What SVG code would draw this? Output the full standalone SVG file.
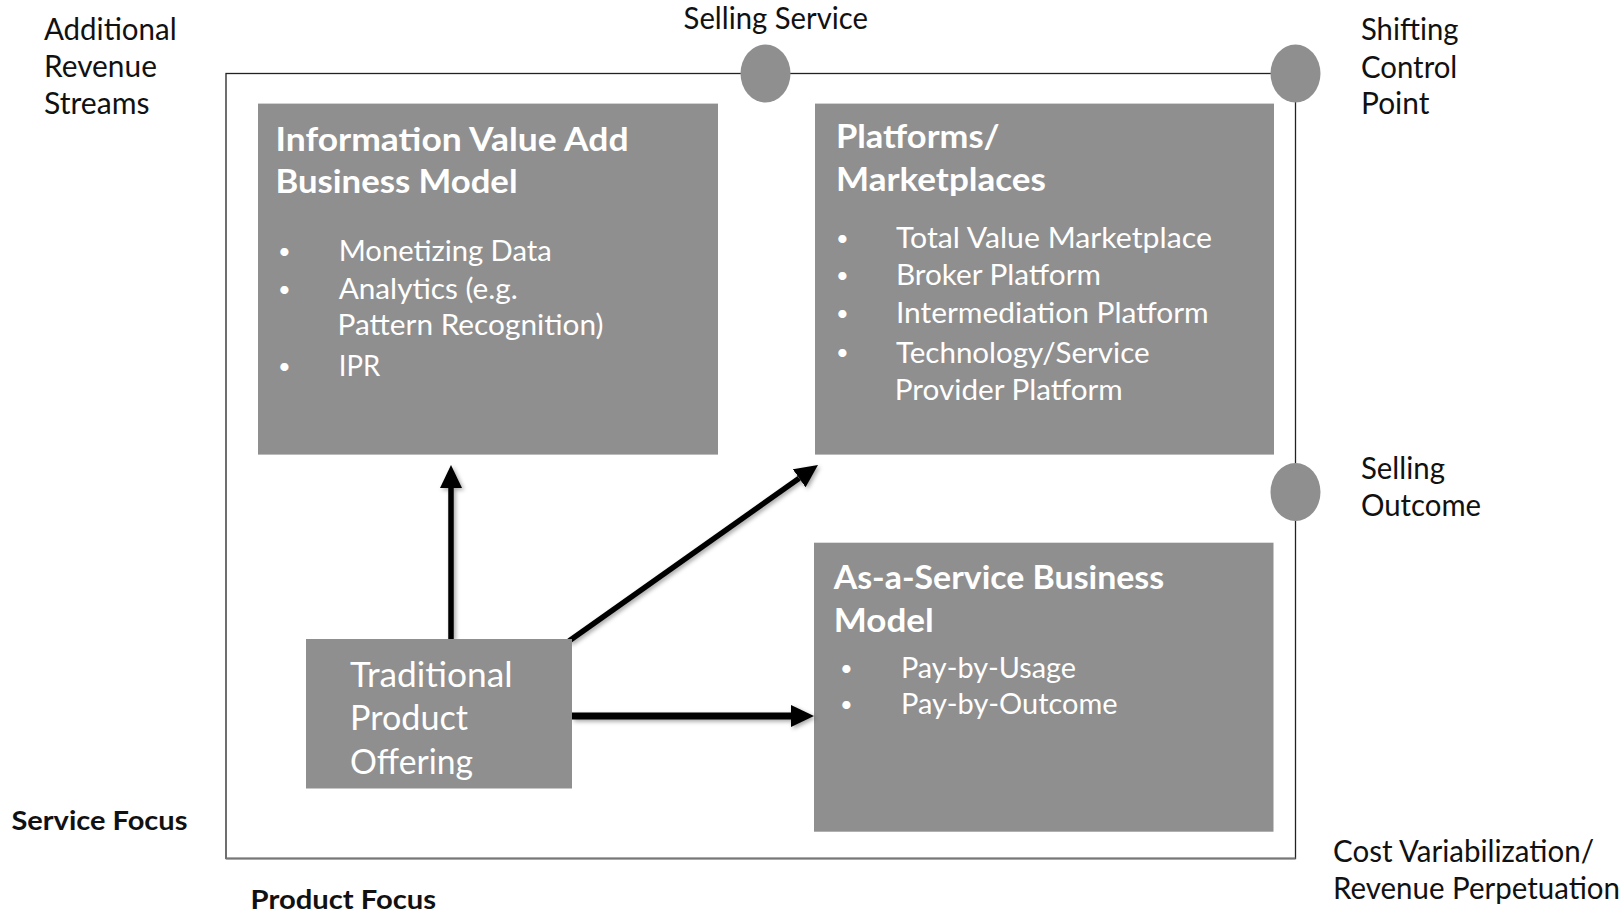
<svg xmlns="http://www.w3.org/2000/svg" width="1624" height="913" viewBox="0 0 1624 913">
<style>
text{font-family:Lato,"Open Sans","Liberation Sans",sans-serif;}
.lbl{font-size:30px;fill:#111;}
.bold{font-size:27px;font-weight:bold;fill:#111;}
.box{fill:#8f8f8f;}
.title{font-size:33px;font-weight:bold;fill:#fff;}
.item{font-size:29px;fill:#fff;}
.bul{font-size:22px;fill:#fff;}
.trad{font-size:34px;fill:#fff;}
.dot{fill:#8f8f8f;}
.conn{stroke:#000;fill:none;}
</style>
<defs>
<marker id="ah" markerUnits="userSpaceOnUse" viewBox="0 0 23 22" markerWidth="23" markerHeight="22" refX="0" refY="11" orient="auto">
<path d="M0,0 L23,11 L0,22 z" fill="#000"/>
</marker>
<filter id="sh" x="-20%" y="-20%" width="140%" height="140%">
<feDropShadow dx="2" dy="2" stdDeviation="2" flood-color="#000" flood-opacity="0.35"/>
</filter>
</defs>
<g id="frame">
<rect x="226" y="73.5" width="1069.5" height="785" fill="none" stroke="#222" stroke-width="1.3"/>
<line x1="226" y1="858.5" x2="1295.5" y2="858.5" stroke="#777" stroke-width="2"/>
</g>
<g id="markers">
<ellipse class="dot" cx="765.5" cy="73.5" rx="25" ry="29"/>
<ellipse class="dot" cx="1295.5" cy="73.5" rx="25" ry="29"/>
<ellipse class="dot" cx="1295.5" cy="492" rx="25" ry="29"/>
</g>
<g id="axis-labels">
<text class="lbl" x="44" y="40" textLength="132.6" lengthAdjust="spacingAndGlyphs">Additional</text>
<text class="lbl" x="44" y="77" textLength="112.9" lengthAdjust="spacingAndGlyphs">Revenue</text>
<text class="lbl" x="44" y="113.5" textLength="105.6" lengthAdjust="spacingAndGlyphs">Streams</text>
<text class="lbl" x="683.6" y="28.5" textLength="184.4" lengthAdjust="spacingAndGlyphs">Selling Service</text>
<text class="lbl" x="1361" y="40" textLength="97.4" lengthAdjust="spacingAndGlyphs">Shifting</text>
<text class="lbl" x="1361" y="77.5" textLength="96.3" lengthAdjust="spacingAndGlyphs">Control</text>
<text class="lbl" x="1361" y="114" textLength="68.4" lengthAdjust="spacingAndGlyphs">Point</text>
<text class="lbl" x="1361" y="479" textLength="83.9" lengthAdjust="spacingAndGlyphs">Selling</text>
<text class="lbl" x="1361" y="516" textLength="120" lengthAdjust="spacingAndGlyphs">Outcome</text>
<text class="lbl" x="1333" y="861.5" textLength="261" lengthAdjust="spacingAndGlyphs">Cost Variabilization/</text>
<text class="lbl" x="1333" y="899" textLength="287" lengthAdjust="spacingAndGlyphs">Revenue Perpetuation</text>
<text class="bold" x="11.4" y="830" textLength="176" lengthAdjust="spacingAndGlyphs">Service Focus</text>
<text class="bold" x="250.6" y="909" textLength="185.4" lengthAdjust="spacingAndGlyphs">Product Focus</text>
</g>
<g id="node-info">
<rect class="box" x="258" y="103.6" width="460" height="351"/>
<text class="title" x="275.5" y="150.7" textLength="353" lengthAdjust="spacingAndGlyphs">Information Value Add</text>
<text class="title" x="275.5" y="192.7" textLength="242" lengthAdjust="spacingAndGlyphs">Business Model</text>
<text class="bul" x="278" y="259">•</text>
<text class="item" x="338.7" y="261" textLength="213" lengthAdjust="spacingAndGlyphs">Monetizing Data</text>
<text class="bul" x="278" y="297">•</text>
<text class="item" x="338.7" y="298.7" textLength="179" lengthAdjust="spacingAndGlyphs">Analytics (e.g.</text>
<text class="item" x="337.5" y="335.3" textLength="266" lengthAdjust="spacingAndGlyphs">Pattern Recognition)</text>
<text class="bul" x="278" y="374">•</text>
<text class="item" x="338.7" y="376" textLength="41.4" lengthAdjust="spacingAndGlyphs">IPR</text>
</g>
<g id="node-platforms">
<rect class="box" x="815" y="103.6" width="459" height="351"/>
<text class="title" x="836" y="147.5" textLength="163.6" lengthAdjust="spacingAndGlyphs">Platforms/</text>
<text class="title" x="836" y="190.5" textLength="210" lengthAdjust="spacingAndGlyphs">Marketplaces</text>
<text class="bul" x="836" y="246">•</text>
<text class="item" x="895.9" y="248.3" textLength="316" lengthAdjust="spacingAndGlyphs">Total Value Marketplace</text>
<text class="bul" x="836" y="283">•</text>
<text class="item" x="895.9" y="285" textLength="205" lengthAdjust="spacingAndGlyphs">Broker Platform</text>
<text class="bul" x="836" y="321">•</text>
<text class="item" x="895.9" y="323.3" textLength="312.8" lengthAdjust="spacingAndGlyphs">Intermediation Platform</text>
<text class="bul" x="836" y="360">•</text>
<text class="item" x="895.9" y="363" textLength="253.7" lengthAdjust="spacingAndGlyphs">Technology/Service</text>
<text class="item" x="894.8" y="400" textLength="228" lengthAdjust="spacingAndGlyphs">Provider Platform</text>
</g>
<g id="node-service">
<rect class="box" x="814" y="542.7" width="459.5" height="289"/>
<text class="title" x="833.7" y="588.8" textLength="330.4" lengthAdjust="spacingAndGlyphs">As-a-Service Business</text>
<text class="title" x="833.7" y="632" textLength="100" lengthAdjust="spacingAndGlyphs">Model</text>
<text class="bul" x="840" y="676">•</text>
<text class="item" x="901" y="678.3" textLength="175" lengthAdjust="spacingAndGlyphs">Pay-by-Usage</text>
<text class="bul" x="840" y="712">•</text>
<text class="item" x="901" y="714.3" textLength="216.5" lengthAdjust="spacingAndGlyphs">Pay-by-Outcome</text>
</g>
<g id="connectors" filter="url(#sh)">
<line class="conn" x1="451" y1="639" x2="451" y2="488" stroke-width="5.5" marker-end="url(#ah)"/>
<line class="conn" x1="569" y1="641" x2="799.2" y2="478.3" stroke-width="5.5" marker-end="url(#ah)"/>
<line class="conn" x1="572" y1="716" x2="791" y2="716" stroke-width="7" marker-end="url(#ah)"/>
</g>
<g id="node-traditional">
<rect class="box" x="306" y="639" width="266" height="149.5"/>
<text class="trad" x="350" y="687" textLength="162.6" lengthAdjust="spacingAndGlyphs">Traditional</text>
<text class="trad" x="350" y="729.7" textLength="118" lengthAdjust="spacingAndGlyphs">Product</text>
<text class="trad" x="350" y="773.7" textLength="123" lengthAdjust="spacingAndGlyphs">Offering</text>
</g>
</svg>
